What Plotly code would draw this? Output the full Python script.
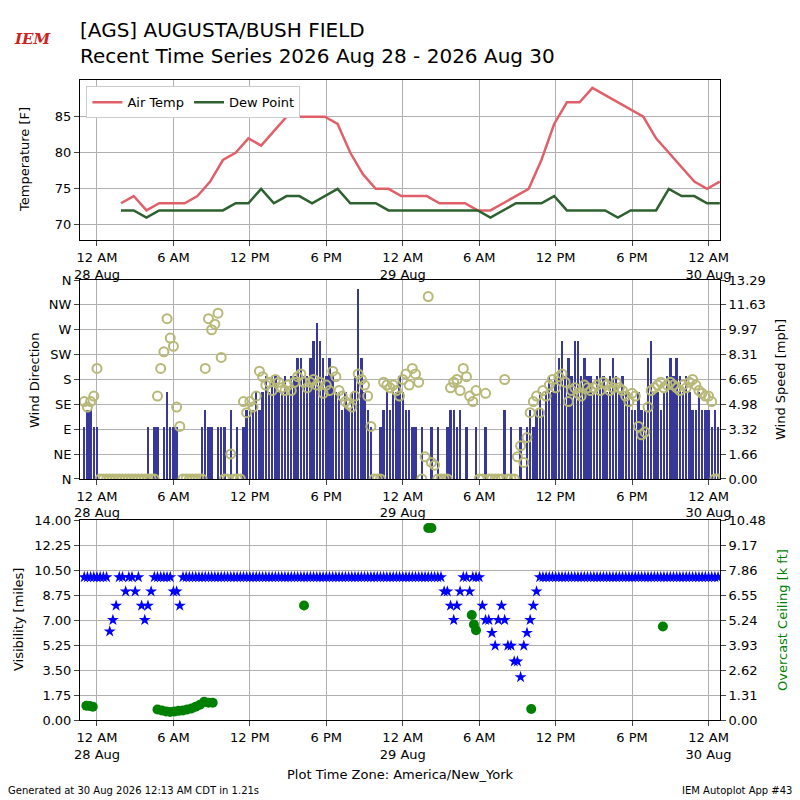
import pandas as pd
import plotly.graph_objects as go

temp_times = pd.date_range("2026-08-28 01:53", periods=48, freq="h")
air_temp = [73,74,72,73,73,73,74,76,79,80,82,81,83,85,85,85,85,84,80,77,75,75,74,74,
            74,73,73,73,72,72,73,74,75,79,84,87,87,89,88,87,86,85,82,80,78,76,75,76]
dew_point = [72,72,71,72,72,72,72,72,72,73,73,75,73,74,74,73,74,75,73,73,73,72,72,72,
             72,72,72,72,72,71,72,73,73,73,74,72,72,72,72,71,72,72,72,75,74,74,73,73]

wind_times = pd.date_range("2026-08-27 23:00", periods=200, freq="15min")
wind_speed = [3.5,4.6,4.6,3.5, 3.5,0,0,0, 0,0,0,0, 0,0,0,0, 0,0,0,0,
              3.5,0,3.5,3.5, 0,3.5,5.8,3.5, 3.5,3.5,0,0, 0,0,0,0, 0,3.5,4.6,3.5,
              3.5,0,3.5,3.5, 3.5,0,4.6,0, 3.5,0,3.5,4.6, 4.6,4.6,5.8,4.6, 5.8,6.9,5.8,6.9,
              6.9,5.8,5.8,6.9, 5.8,6.9,6.9,8.1, 8.1,6.9,6.9,8.1, 9.2,10.4,9.2,8.1, 6.9,8.1,6.9,5.8,
              5.8,4.6,5.8,4.6, 5.8,6.9,12.7,8.1, 5.8,4.6,3.5,0, 0,3.5,4.6,5.8, 4.6,5.8,5.8,6.9,
              5.8,4.6,4.6,3.5, 3.5,0,3.5,0, 0,3.5,0,3.5, 0,0,3.5,4.6, 4.6,3.5,4.6,0,
              3.5,0,0,3.5, 0,0,3.5,0, 0,0,0,0, 4.6,0,3.5,0, 0,3.5,0,3.5,
              4.6,3.5,4.6,5.8, 4.6,5.8,6.9,5.8, 6.9,8.1,9.2,6.9, 8.1,6.9,9.2,9.2, 6.9,8.1,6.9,6.9,
              5.8,6.9,8.1,6.9, 5.8,6.9,8.1,6.9, 5.8,6.9,5.8,5.8, 4.6,4.6,5.8,4.6, 4.6,8.1,9.2,5.8,
              5.8,4.6,5.8,6.9, 8.1,6.9,8.1,6.9, 5.8,6.9,5.8,4.6, 4.6,5.8,4.6,4.6, 4.6,3.5,4.6,3.5]
wind_dir = [140,130,140,150, 200,0,0,0, 0,0,0,0, 0,0,0,0, 0,0,0,0,
            0,0,0,150, 200,230,290,255, 240,130,95,0, 0,0,0,0, 0,0,200,290,
            270,280,300,220, 0,0,45,0, 0,0,140,120, 140,130,150,195, 185,170,175,160,
            180,175,165,160, 170,160,175,185, 190,175,165,175, 180,170,175,155, 170,160,195,185,
            160,150,140,135, 130,150,190,180, 170,150,95,0, 0,0,175,170, 165,170,160,150,
            180,190,170,200, 190,175,0,40, 330,30,25,0, 0,0,0,165, 175,180,160,200,
            185,150,140,160, 0,0,155,0, 0,0,0,0, 180,0,0,0, 40,60,30,75,
            120,140,150,120, 160,150,170,180, 165,185,190,175, 140,160,165,155, 150,170,165,160,
            165,170,160,175, 170,160,165,175, 165,160,150,140, 155,150,95,80, 85,130,160,165,
            170,175,165,170, 175,170,165,160, 170,165,175,180, 170,160,155,150, 150,140,0,0]

visibility = [10,10,10,10, 10,10,10,10, 6.2,7,8,10, 10,9,10,10, 9,10,8,7,
              8,9,10,10, 10,10,10,10, 9,9,8,10] + [10]*80 + \
             [10,9,9,8, 7,8,9,10, 10,9,10,10, 10,8,7,7, 6.1,5.2,7,8,
              7,5.2,5.2,4.1, 4.1,3,5.2,6.1, 7,8,9,10] + [10]*56

ceil_times = pd.to_datetime(["2026-08-27 23:10","2026-08-27 23:25","2026-08-27 23:40",
    "2026-08-28 04:45","2026-08-28 05:05","2026-08-28 05:25","2026-08-28 05:45","2026-08-28 06:05",
    "2026-08-28 06:25","2026-08-28 06:45","2026-08-28 07:05","2026-08-28 07:25","2026-08-28 07:45",
    "2026-08-28 08:05","2026-08-28 08:25","2026-08-28 08:45","2026-08-28 09:05",
    "2026-08-28 16:15","2026-08-29 02:00","2026-08-29 02:15",
    "2026-08-29 05:25","2026-08-29 05:35","2026-08-29 05:45","2026-08-29 10:05","2026-08-29 20:25"])
ceiling = [0.75,0.73,0.7, 0.55,0.5,0.45,0.42,0.45,0.48,0.5,0.55,0.6,0.7,0.8,0.95,0.9,0.9,
           6.0,10.06,10.06, 5.5,5.0,4.7,0.58,4.9]

tick_vals = pd.date_range("2026-08-28 00:00", "2026-08-30 00:00", freq="6h")
tick_text = ["12 AM<br>28 Aug","6 AM","12 PM","6 PM","12 AM<br>29 Aug","6 AM","12 PM","6 PM","12 AM<br>30 Aug"]
xr = [pd.Timestamp("2026-08-27 22:40"), pd.Timestamp("2026-08-30 00:54")]

fig = go.Figure()
fig.add_trace(go.Scatter(x=temp_times, y=air_temp, mode="lines", name="Air Temp",
                         line=dict(color="#e0606a", width=2.5), xaxis="x", yaxis="y"))
fig.add_trace(go.Scatter(x=temp_times, y=dew_point, mode="lines", name="Dew Point",
                         line=dict(color="#2e6030", width=2.5), xaxis="x", yaxis="y"))
fig.add_trace(go.Bar(x=wind_times, y=wind_speed, marker=dict(color="#383898", line=dict(width=0)),
                     width=15*60*1000*0.75, showlegend=False, xaxis="x2", yaxis="y3"))
fig.add_trace(go.Scatter(x=wind_times, y=wind_dir, mode="markers", showlegend=False,
                         marker=dict(symbol="circle-open", size=9, color="#b8b878", line=dict(width=2)),
                         xaxis="x2", yaxis="y4"))
fig.add_trace(go.Scatter(x=wind_times, y=visibility, mode="markers", showlegend=False,
                         marker=dict(symbol="star", size=9, color="blue"), xaxis="x3", yaxis="y5"))
fig.add_trace(go.Scatter(x=ceil_times, y=ceiling, mode="markers", showlegend=False,
                         marker=dict(symbol="circle", size=10, color="green"), xaxis="x3", yaxis="y6"))

ax = dict(type="date", range=xr, tickvals=tick_vals, ticktext=tick_text, showgrid=True,
          gridcolor="#b0b0b0", showline=True, linecolor="black", mirror=True, ticks="outside",
          tickfont=dict(size=13, color="black"), automargin=False)
ycommon = dict(showline=True, linecolor="black", ticks="outside", tickfont=dict(size=13), automargin=False)
fig.update_layout(
    xaxis=dict(ax, domain=[0, 1], anchor="y"),
    xaxis2=dict(ax, domain=[0, 1], anchor="y3"),
    xaxis3=dict(ax, domain=[0, 1], anchor="y5"),
    yaxis=dict(ycommon, domain=[0.75, 1.0], range=[67.9, 90.1], tickvals=[70, 75, 80, 85],
               showgrid=True, gridcolor="#b0b0b0", mirror=True),
    yaxis3=dict(ycommon, domain=[0.3766, 0.6875], range=[0, 13.29], side="right", anchor="x2",
                tickvals=[0, 1.66, 3.32, 4.98, 6.65, 8.31, 9.97, 11.63, 13.29],
                ticktext=["0.00","1.66","3.32","4.98","6.65","8.31","9.97","11.63","13.29"],
                showgrid=False),
    yaxis4=dict(ycommon, overlaying="y3", range=[0, 360], side="left", anchor="x2",
                tickvals=[0,45,90,135,180,225,270,315,360],
                ticktext=["N","NE","E","SE","S","SW","W","NW","N"],
                showgrid=True, gridcolor="#b0b0b0"),
    yaxis5=dict(ycommon, domain=[0, 0.3125], range=[0, 14], anchor="x3",
                tickvals=[0,1.75,3.5,5.25,7,8.75,10.5,12.25,14],
                ticktext=["0.00","1.75","3.50","5.25","7.00","8.75","10.50","12.25","14.00"],
                showgrid=True, gridcolor="#b0b0b0"),
    yaxis6=dict(ycommon, overlaying="y5", range=[0, 10.48], side="right", anchor="x3",
                tickvals=[0,1.31,2.62,3.93,5.24,6.55,7.86,9.17,10.48],
                ticktext=["0.00","1.31","2.62","3.93","5.24","6.55","7.86","9.17","10.48"],
                showgrid=False),
    width=800, height=800, margin=dict(l=72, r=88, t=72, b=88),
    plot_bgcolor="white", paper_bgcolor="white", bargap=0,
    font=dict(family="DejaVu Sans", color="black"),
    legend=dict(x=0.01, y=0.99, xanchor="left", yanchor="top", orientation="h",
                bordercolor="#cccccc", borderwidth=1, bgcolor="white", font=dict(size=13)),
)

def ann(text, px, py, xa="left", ya="top", size=13, color="black", angle=0, family=None, align="left"):
    f = dict(size=size, color=color)
    if family:
        f["family"] = family
    fig.add_annotation(text=text, x=(px - 8 - 72) / 640, y=(712 - (py - 8)) / 640,
                       xref="paper", yref="paper", xanchor=xa, yanchor=ya, showarrow=False,
                       textangle=angle, font=f, align=align)

ann("[AGS] AUGUSTA/BUSH FIELD<br>Recent Time Series 2026 Aug 28 - 2026 Aug 30", 78, 16, size=20)
ann("<i><b>IEM</b></i>", 12, 28, size=15, color="#cc2222", family="DejaVu Serif")
ann("Generated at 30 Aug 2026 12:13 AM CDT in 1.21s", 6, 798, ya="bottom", size=10)
ann("IEM Autoplot App #43", 794, 798, xa="right", ya="bottom", size=10)
ann("Plot Time Zone: America/New_York", 400, 774, xa="center", ya="middle")
ann("Temperature [F]", 24, 160, xa="center", ya="middle", angle=-90)
ann("Wind Direction", 34, 380, xa="center", ya="middle", angle=-90)
ann("Wind Speed [mph]", 780, 380, xa="center", ya="middle", angle=-90)
ann("Visibility [miles]", 18, 620, xa="center", ya="middle", angle=-90)
ann("Overcast Ceiling [k ft]", 782, 620, xa="center", ya="middle", angle=-90, color="green")
fig.write_html("out.html")
